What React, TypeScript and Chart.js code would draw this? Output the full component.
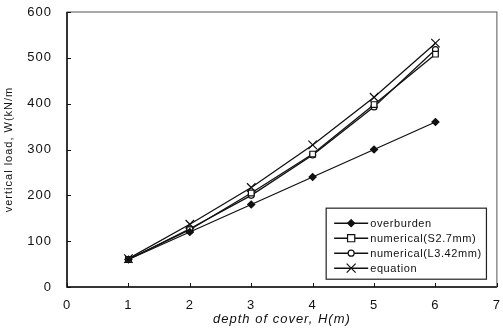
import React, { useEffect, useRef } from "react";
import { Chart, registerables } from "chart.js";

Chart.register(...registerables);

const depths = [1, 2, 3, 4, 5, 6];
const overburden = [60, 120, 180, 240, 300, 360];
const numericalS = [60, 125, 205, 290, 398, 508];
const numericalL = [60, 127, 200, 288, 393, 518];
const equation = [62, 137, 217, 310, 414, 532];

const xTicks = [0, 1, 2, 3, 4, 5, 6, 7];
const yTicks = [0, 100, 200, 300, 400, 500, 600];

const seriesLabels = ["overburden", "numerical(S2.7mm)", "numerical(L3.42mm)", "equation"];
const xTitle = "depth of cover, H(m)";
const yTitle = "vertical load, W(kN/m";

const FONT = "'Liberation Sans', Arial, Helvetica, sans-serif";

function drawMarker(ctx: CanvasRenderingContext2D, style: string, r: number, x: number, y: number, fill: string) {
  ctx.save();
  ctx.fillStyle = fill;
  ctx.strokeStyle = "#111";
  ctx.lineWidth = 1.2;
  ctx.beginPath();
  if (style === "rectRot") {
    ctx.moveTo(x, y - r);
    ctx.lineTo(x + r, y);
    ctx.lineTo(x, y + r);
    ctx.lineTo(x - r, y);
    ctx.closePath();
    ctx.fill();
    ctx.stroke();
  } else if (style === "rect") {
    const s = r * 0.9;
    ctx.rect(x - s, y - s, 2 * s, 2 * s);
    ctx.fill();
    ctx.stroke();
  } else if (style === "circle") {
    ctx.arc(x, y, r, 0, Math.PI * 2);
    ctx.fill();
    ctx.stroke();
  } else if (style === "crossRot") {
    const d = r * 0.75;
    ctx.moveTo(x - d, y - d);
    ctx.lineTo(x + d, y + d);
    ctx.moveTo(x + d, y - d);
    ctx.lineTo(x - d, y + d);
    ctx.stroke();
  }
  ctx.restore();
}

const frameAndTicks = {
  id: "frameAndTicks",
  afterDatasetsDraw(chart: any) {
    const { ctx, chartArea, scales } = chart;
    ctx.save();
    ctx.strokeStyle = "#555";
    ctx.lineWidth = 1;
    ctx.strokeRect(chartArea.left, chartArea.top, chartArea.right - chartArea.left, chartArea.bottom - chartArea.top);
    ctx.strokeStyle = "#111";
    ctx.lineWidth = 1.5;
    ctx.beginPath();
    ctx.moveTo(chartArea.left, chartArea.top);
    ctx.lineTo(chartArea.left, chartArea.bottom);
    ctx.lineTo(chartArea.right, chartArea.bottom);
    ctx.stroke();
    ctx.lineWidth = 1;
    for (const v of xTicks) {
      const px = Math.round(scales.x.getPixelForValue(v)) + 0.5;
      ctx.beginPath();
      ctx.moveTo(px, chartArea.bottom);
      ctx.lineTo(px, chartArea.bottom - 4);
      ctx.stroke();
    }
    for (const v of yTicks) {
      const py = Math.round(scales.y.getPixelForValue(v)) + 0.5;
      ctx.beginPath();
      ctx.moveTo(chartArea.left, py);
      ctx.lineTo(chartArea.left + 4, py);
      ctx.stroke();
    }
    ctx.restore();
  },
};

const boxLegend = {
  id: "boxLegend",
  afterDraw(chart: any) {
    const { ctx, scales } = chart;
    const left = scales.x.getPixelForValue(4.22);
    const right = scales.x.getPixelForValue(6.83);
    const top = scales.y.getPixelForValue(172);
    const bottom = scales.y.getPixelForValue(17);
    ctx.save();
    ctx.fillStyle = "#fff";
    ctx.fillRect(left, top, right - left, bottom - top);
    ctx.strokeStyle = "#222";
    ctx.lineWidth = 1.2;
    ctx.strokeRect(left, top, right - left, bottom - top);
    const rowH = 15;
    const firstY = top + 15;
    ctx.font = `11px ${FONT}`;
    (ctx as any).letterSpacing = "0.6px";
    ctx.textBaseline = "middle";
    ctx.textAlign = "left";
    chart.data.datasets.forEach((ds: any, i: number) => {
      const y = firstY + i * rowH;
      const x0 = left + 8;
      const x1 = left + 42;
      ctx.strokeStyle = "#111";
      ctx.lineWidth = 1.5;
      ctx.beginPath();
      ctx.moveTo(x0, y);
      ctx.lineTo(x1, y);
      ctx.stroke();
      drawMarker(ctx, ds.pointStyle, ds.pointRadius, (x0 + x1) / 2, y, ds.pointBackgroundColor);
      ctx.fillStyle = "#111";
      ctx.fillText(ds.label, x1 + 2, y + 0.5);
    });
    ctx.restore();
  },
};

const spacing = {
  id: "spacing",
  beforeUpdate(chart: any) {
    (chart.ctx as any).letterSpacing = "1px";
  },
  beforeDraw(chart: any) {
    (chart.ctx as any).letterSpacing = "1px";
  },
};

function mk(label: string, data: number[], pointStyle: string, radius: number, fill: string) {
  return {
    label,
    data: depths.map((d, i) => ({ x: d, y: data[i] })),
    borderColor: "#111",
    borderWidth: 1.3,
    pointStyle,
    pointRadius: radius,
    pointBorderColor: "#111",
    pointBorderWidth: 1.2,
    pointBackgroundColor: fill,
    fill: false,
    tension: 0,
  };
}

export default function App() {
  const ref = useRef<HTMLCanvasElement>(null);
  useEffect(() => {
    if (!ref.current) return;
    const chart = new Chart(ref.current, {
      type: "line",
      data: {
        datasets: [
          mk(seriesLabels[0], overburden, "rectRot", 3.5, "#111"),
          mk(seriesLabels[1], numericalS, "rect", 4, "#fff"),
          mk(seriesLabels[2], numericalL, "circle", 3, "#fff"),
          mk(seriesLabels[3], equation, "crossRot", 6, "#111"),
        ] as any,
      },
      options: {
        animation: false,
        responsive: true,
        maintainAspectRatio: false,
        devicePixelRatio: 1,
        layout: { padding: { top: 12, right: 11, left: 0, bottom: 0 } },
        plugins: { legend: { display: false }, tooltip: { enabled: false } },
        scales: {
          x: {
            type: "linear",
            min: 0,
            max: 7,
            afterBuildTicks: (s: any) => {
              s.ticks = xTicks.map((v) => ({ value: v }));
            },
            afterFit: (s: any) => {
              s.height = 48;
            },
            grid: { display: false, drawTicks: false },
            border: { display: false },
            ticks: { color: "#111", padding: 11, font: { family: FONT, size: 13 } },
            title: {
              display: true,
              text: xTitle,
              color: "#111",
              padding: { top: 0, bottom: 8 },
              font: { family: FONT, size: 13, style: "italic" },
            },
          },
          y: {
            min: 0,
            max: 600,
            afterBuildTicks: (s: any) => {
              s.ticks = yTicks.map((v) => ({ value: v }));
            },
            afterFit: (s: any) => {
              s.width = 67;
              s.paddingTop = 0;
              s.paddingBottom = 0;
            },
            grid: { display: false, drawTicks: false },
            border: { display: false },
            ticks: { color: "#111", padding: 15, font: { family: FONT, size: 13 } },
            title: {
              display: true,
              text: yTitle,
              color: "#111",
              padding: { top: 2, bottom: 0 },
              font: { family: FONT, size: 11 },
            },
          },
        },
      } as any,
      plugins: [spacing, frameAndTicks, boxLegend],
    });
    return () => chart.destroy();
  }, []);
  return (
    <div style={{ position: "fixed", left: 0, top: 0, width: 503, height: 335, overflow: "hidden", background: "#fff" }}>
      <div style={{ position: "relative", width: 512, height: 335 }}>
        <canvas ref={ref} />
      </div>
    </div>
  );
}
